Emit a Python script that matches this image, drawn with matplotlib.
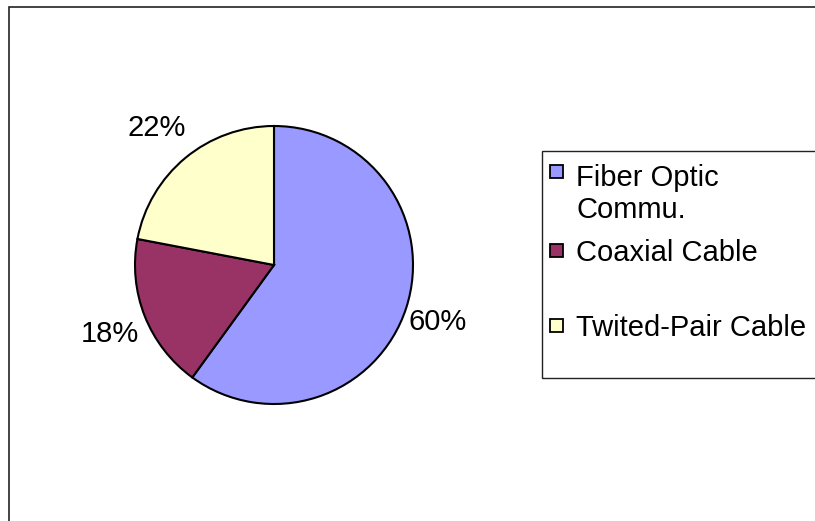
import numpy as np
import matplotlib.pyplot as plt
from matplotlib.patches import Rectangle

# Data
labels = ["Fiber Optic\nCommu.", "Coaxial Cable", "Twited-Pair Cable"]
shares = [60, 18, 22]
colors = ["#9999FF", "#993366", "#FFFFCC"]
label_dist = [1.24, 1.27, 1.32]

W, H = 815, 521
plt.rcParams['font.family'] = ['Liberation Sans', 'DejaVu Sans']


def fx(px):
    return px / W


def fy(py):
    return 1 - py / H


fig = plt.figure(figsize=(W / 100, H / 100), dpi=100)

# outer chart border (only left/top visible)
fig.patches.append(Rectangle((fx(8.5), fy(530)), 1.0, fy(6.5) - fy(530),
                             transform=fig.transFigure, fill=False,
                             edgecolor='#222222', linewidth=1.2))

# pie axes: centre (274, 265), radius 139 px
cx, cy, r = 274, 265, 139
ax = fig.add_axes([fx(cx - r), fy(cy + r), 2 * r / W, 2 * r / H])
wedges, _, autotexts = ax.pie(shares, colors=colors, startangle=90, counterclock=False,
                              autopct='%1.0f%%', pctdistance=1.28,
                              wedgeprops=dict(edgecolor='black', linewidth=1.5),
                              textprops=dict(fontsize=21, color='black'))
# excel-like label placement just outside each slice
for w, t, d in zip(wedges, autotexts, label_dist):
    ang = np.deg2rad((w.theta1 + w.theta2) / 2)
    t.set_position((d * np.cos(ang), d * np.sin(ang) - 0.03))
ax.set_xlim(-1, 1)
ax.set_ylim(-1, 1)
ax.set_aspect('equal')
ax.set_axis_off()

# legend box
fig.patches.append(Rectangle((fx(541.5), fy(378)), 1.0, fy(151.5) - fy(378),
                             transform=fig.transFigure, fill=False,
                             edgecolor='#222222', linewidth=1.0))

# legend entries (baseline of last line for each label)
baselines = [218, 261, 336]
marker_mid = [171.5, 250, 325]
for lab, col, base, mid in zip(labels, colors, baselines, marker_mid):
    fig.patches.append(Rectangle((fx(550), fy(mid + 6.5)), 13 / W, 13 / H,
                                 transform=fig.transFigure, facecolor=col,
                                 edgecolor='black', linewidth=1.3))
    fig.text(fx(576), fy(base), lab, fontsize=21, ha='left', va='baseline',
             linespacing=1.2)

plt.savefig("out.png", dpi=100)
